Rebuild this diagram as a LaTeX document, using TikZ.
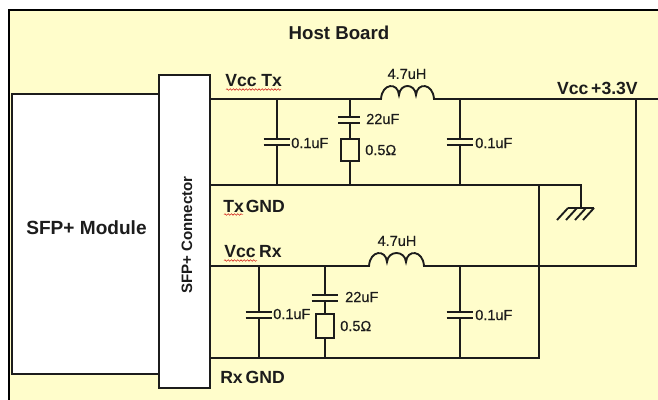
\documentclass[tikz,border=0pt]{standalone}
\usepackage{fontspec}
\setmainfont{Liberation Sans}
\newfontfamily\valfont[FakeBold=0.35]{Liberation Sans}
\usetikzlibrary{decorations.pathmorphing}
\definecolor{boardbg}{HTML}{FFFDCB}
\definecolor{ink}{HTML}{1C1C1C}
\tikzset{
  wire/.style={draw=ink,line width=1.4pt},
  boxw/.style={draw=ink,line width=1.5pt,fill=white,inner sep=0pt,rectangle},
  capb/.style={inner sep=0pt,minimum width=19.5pt,minimum height=4.4pt,fill=boardbg,rectangle},
  capsmall/.style={capb,minimum width=16pt},
  res/.style={draw=ink,line width=1.4pt,fill=boardbg,inner sep=0pt,rectangle,minimum width=14pt,minimum height=17pt},
  big/.style={font=\fontsize{13.2pt}{15pt}\selectfont\bfseries,text=ink,inner sep=0pt},
  val/.style={font=\fontsize{10.9pt}{13pt}\selectfont\valfont,text=ink,inner sep=0pt},
  squig/.style={draw=red!80!black,line width=0.35pt,decorate,decoration={snake,amplitude=0.6pt,segment length=2.4pt}}
}
\begin{document}
\begin{tikzpicture}[x=0.75pt,y=-0.75pt]
\useasboundingbox (0,0) rectangle (658,400);
\fill[white] (0,0) rectangle (658,400);
\fill[boardbg] (9,10) rectangle (658,400);
\draw[draw=black,line width=2pt] (9,400) -- (9,10) -- (658,10);
% rails: named junctions
\coordinate (txs) at (210,99);
\coordinate (txc1) at (277,99);
\coordinate (txc2) at (350,99);
\coordinate (l1a) at (381,99);
\coordinate (l1b) at (434,99);
\coordinate (txc3) at (460,99);
\coordinate (vj) at (636,99);
\coordinate (vend) at (658,99);
\coordinate (tgs) at (210,185);
\coordinate (tg1) at (277,185);
\coordinate (tg2) at (350,185);
\coordinate (tg3) at (460,185);
\coordinate (gj) at (539,185);
\coordinate (gc) at (581,185);
\coordinate (gt) at (581,208);
\coordinate (rxs) at (210,266);
\coordinate (rxc1) at (259,266);
\coordinate (rxc2) at (325,266);
\coordinate (l2a) at (369,266);
\coordinate (l2b) at (424,266);
\coordinate (rxc3) at (460,266);
\coordinate (vr) at (636,266);
\coordinate (rgs) at (210,358);
\coordinate (rg1) at (259,358);
\coordinate (rg2) at (325,358);
\coordinate (rg3) at (460,358);
\coordinate (rgj) at (539,358);
% wires
\draw[wire] (txs) -- (l1a) .. controls +(1,-16) and +(-1,-13) .. ++(18,-4) .. controls +(1,-12) and +(-1,-12) .. ++(17,0) .. controls +(1,-13) and +(-1,-16) .. (l1b) -- (vend);
\draw[wire] (vj) -- (vr) -- (l2b) .. controls +(-1,-16) and +(1,-13) .. ++(-18,-4) .. controls +(-1,-12) and +(1,-12) .. ++(-19,0) .. controls +(-1,-13) and +(1,-16) .. (l2a) -- (rxs);
\draw[wire] (tgs) -- (gc) -- (gt);
\draw[wire] (gj) -- (rgj) -- (rgs);
\draw[wire] (txc1) -- (tg1);
\draw[wire] (txc2) -- (tg2);
\draw[wire] (txc3) -- (tg3);
\draw[wire] (rxc1) -- (rg1);
\draw[wire] (rxc2) -- (rg2);
\draw[wire] (rxc3) -- (rg3);
% capacitors
\node[capb] (c1) at (277,142) {};
\node[capsmall] (c2) at (349,120) {};
\node[capb] (c3) at (460,142) {};
\node[capb] (c4) at (259,315) {};
\node[capb] (c5) at (325,298) {};
\node[capb] (c6) at (460,315) {};
\foreach \c in {c1,c2,c3,c4,c5,c6}{
  \draw[wire] (\c.north west) -- (\c.north east);
  \draw[wire] (\c.south west) -- (\c.south east);
}
% resistors
\node[res] (r1) at (350,150) {};
\node[res,minimum height=18pt] (r2) at (325,326) {};
% ground
\draw[wire] (568,208) -- (594,208);
\foreach \gx in {568,577,586,594}{\draw[wire] (\gx,208) -- ++(-11,12);}
% blocks
\node[boxw,minimum width=110.25pt,minimum height=210pt] (mod) at (85.5,234) {};
\node[boxw,minimum width=38.25pt,minimum height=234.75pt] (conn) at (184.5,231.5) {};
\node[big,font=\fontsize{14.3pt}{16pt}\selectfont\bfseries] (mt) at (86.5,228) {SFP+ Module};
\node[big,font=\fontsize{11.3pt}{13pt}\selectfont\bfseries,rotate=90] (ct) at (187,235) {SFP+ Connector};
% labels
\node[big,font=\fontsize{14pt}{16pt}\selectfont\bfseries] (host) at (339,33) {Host Board};
\node[big,anchor=west] (vt) at (225,81) {Vcc Tx};
\node[big,anchor=west] (tg) at (223,206) {Tx\kern-2.2pt{} GND};
\node[big,anchor=west] (vrx) at (224,252) {Vcc\kern-1pt{} Rx};
\node[big,anchor=west] (rg) at (220,377) {Rx\kern-1.5pt{} GND};
\node[big,anchor=east] (v33) at (638,88) {Vcc\kern-1.5pt{} +3.3V};
\node[val] (la) at (407,74) {4.7uH};
\node[val] (lb) at (397,241) {4.7uH};
\node[val,anchor=west] (v1) at (291,143) {0.1uF};
\node[val,anchor=west] (v2) at (366,119) {22uF};
\node[val,anchor=west] (v3) at (365,150) {0.5Ω};
\node[val,anchor=west] (v4) at (475,143) {0.1uF};
\node[val,anchor=west] (v5) at (273,314) {0.1uF};
\node[val,anchor=west] (v6) at (345,297) {22uF};
\node[val,anchor=west] (v7) at (340,326) {0.5Ω};
\node[val,anchor=west] (v8) at (475,315) {0.1uF};
% spell-check underlines
\draw[squig] (226,89.5) -- (281,89.5);
\draw[squig] (224,214.5) -- (243,214.5);
\draw[squig] (224,260.5) -- (257,260.5);
\end{tikzpicture}
\end{document}
